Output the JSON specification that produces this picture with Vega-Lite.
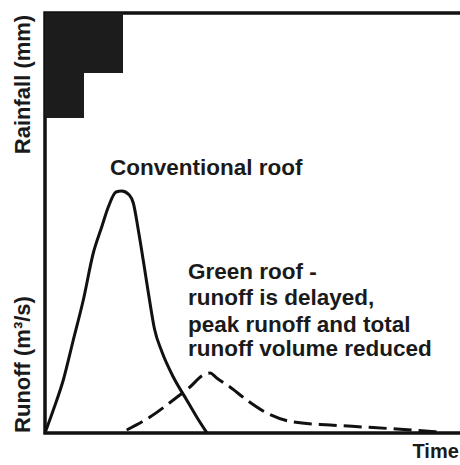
{
  "$schema": "https://vega.github.io/schema/vega-lite/v6.json",
  "autosize": "none",
  "width": 420,
  "height": 420,
  "padding": {"left": 45, "top": 13, "right": 0, "bottom": 32},
  "background": "white",
  "config": {
    "view": {"stroke": "#111111", "strokeWidth": 3.5},
    "font": "Liberation Sans",
    "axis": {"titleFont": "Liberation Sans", "titleFontWeight": "bold", "titleFontSize": 22, "titleColor": "#1a1a1a"}
  },
  "datasets": {
    "rain": [
      {"start": 0, "end": 3.9, "rain": 10.5},
      {"start": 3.9, "end": 7.8, "rain": 6.0}
    ],
    "runoff": [
      {"series": "Conventional roof", "time": 0, "q": 0},
      {"series": "Conventional roof", "time": 0.83, "q": 2.3},
      {"series": "Conventional roof", "time": 1.83, "q": 5.3},
      {"series": "Conventional roof", "time": 2.83, "q": 9.3},
      {"series": "Conventional roof", "time": 3.83, "q": 13.3},
      {"series": "Conventional roof", "time": 4.83, "q": 18.0},
      {"series": "Conventional roof", "time": 5.67, "q": 20.6},
      {"series": "Conventional roof", "time": 6.33, "q": 22.6},
      {"series": "Conventional roof", "time": 7.1, "q": 24.1},
      {"series": "Conventional roof", "time": 7.67, "q": 24.2},
      {"series": "Conventional roof", "time": 8.43, "q": 23.8},
      {"series": "Conventional roof", "time": 8.83, "q": 23.0},
      {"series": "Conventional roof", "time": 9.33, "q": 20.3},
      {"series": "Conventional roof", "time": 9.9, "q": 16.8},
      {"series": "Conventional roof", "time": 10.45, "q": 13.3},
      {"series": "Conventional roof", "time": 10.95, "q": 10.4},
      {"series": "Conventional roof", "time": 11.7, "q": 8.1},
      {"series": "Conventional roof", "time": 12.83, "q": 5.6},
      {"series": "Conventional roof", "time": 14.17, "q": 3.3},
      {"series": "Conventional roof", "time": 15.17, "q": 1.6},
      {"series": "Conventional roof", "time": 16.2, "q": 0},
      {"series": "Green roof", "time": 8.17, "q": 0.3},
      {"series": "Green roof", "time": 10.5, "q": 1.6},
      {"series": "Green roof", "time": 12.83, "q": 3.3},
      {"series": "Green roof", "time": 14.5, "q": 4.6},
      {"series": "Green roof", "time": 15.83, "q": 5.8},
      {"series": "Green roof", "time": 16.5, "q": 6.0},
      {"series": "Green roof", "time": 17.17, "q": 5.5},
      {"series": "Green roof", "time": 18.5, "q": 4.6},
      {"series": "Green roof", "time": 20.17, "q": 3.3},
      {"series": "Green roof", "time": 22.17, "q": 2.0},
      {"series": "Green roof", "time": 24.83, "q": 1.1},
      {"series": "Green roof", "time": 28.5, "q": 0.8},
      {"series": "Green roof", "time": 31.83, "q": 0.6},
      {"series": "Green roof", "time": 35.17, "q": 0.4},
      {"series": "Green roof", "time": 39.5, "q": 0.1}
    ],
    "labels": [
      {"time": 6.5, "q": 25.8, "text": "Conventional roof"},
      {"time": 14.3, "q": 15.37, "text": "Green roof -"},
      {"time": 14.3, "q": 12.8, "text": "runoff is delayed,"},
      {"time": 14.3, "q": 10.13, "text": "peak runoff and total"},
      {"time": 14.3, "q": 7.7, "text": "runoff volume reduced"}
    ]
  },
  "layer": [
    {
      "data": {"name": "rain"},
      "mark": {"type": "rect", "color": "#1c1c1c"},
      "encoding": {
        "x": {"field": "start", "type": "quantitative", "scale": {"domain": [0, 42], "nice": false, "zero": false},
              "axis": {"title": "Time", "domain": false, "ticks": false, "labels": false, "grid": false, "titleFontSize": 20,
                       "titleX": 367, "titleY": 24, "titleAlign": "left", "titleBaseline": "alphabetic"}},
        "x2": {"field": "end"},
        "y": {"field": "rain", "type": "quantitative", "scale": {"domain": [0, 42], "reverse": true, "nice": false},
              "axis": {"title": "Rainfall (mm)", "orient": "right", "domain": false, "ticks": false, "labels": false, "grid": false,
                       "titleAngle": 270, "titleX": -443, "titleY": 71, "titleAlign": "center", "titleBaseline": "middle"}},
        "y2": {"datum": 0}
      }
    },
    {
      "data": {"name": "runoff"},
      "layer": [
        {
          "transform": [{"filter": "datum.series === 'Conventional roof'"}],
          "mark": {"type": "line", "color": "#111111", "strokeWidth": 3, "interpolate": "monotone"},
          "encoding": {
            "x": {"field": "time", "type": "quantitative", "scale": {"domain": [0, 42], "nice": false}},
            "y": {"field": "q", "type": "quantitative", "scale": {"domain": [0, 42], "nice": false},
                  "axis": {"title": "Runoff (m³/s)", "orient": "left", "domain": false, "ticks": false, "labels": false, "grid": false,
                           "titleAngle": 270, "titleX": -23, "titleY": 351, "titleAlign": "center", "titleBaseline": "middle"}}
          }
        },
        {
          "transform": [{"filter": "datum.series === 'Green roof'"}],
          "mark": {"type": "line", "color": "#111111", "strokeWidth": 3, "strokeDash": [18, 7], "interpolate": "monotone"},
          "encoding": {
            "x": {"field": "time", "type": "quantitative"},
            "y": {"field": "q", "type": "quantitative"}
          }
        },
        {
          "data": {"name": "labels"},
          "mark": {"type": "text", "align": "left", "baseline": "alphabetic", "font": "Liberation Sans", "fontWeight": "bold", "fontSize": 22.5, "color": "#1a1a1a"},
          "encoding": {
            "x": {"field": "time", "type": "quantitative"},
            "y": {"field": "q", "type": "quantitative"},
            "text": {"field": "text"}
          }
        }
      ]
    }
  ],
  "resolve": {"scale": {"y": "independent"}, "axis": {"y": "independent"}}
}
